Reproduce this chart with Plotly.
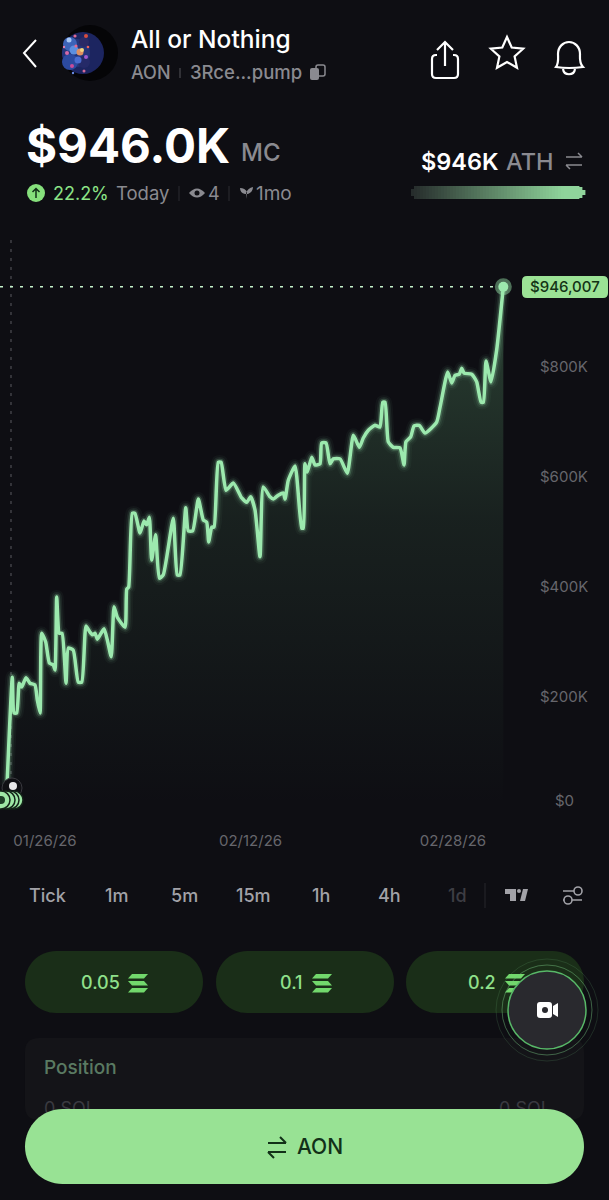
import re
import math
import pandas as pd
import plotly.graph_objects as go

W = 609
H = 1200
BG = "#0e0e13"
GREEN = "#9ce9ae"
GREY = "#8a8a90"

# days after 01/26/26
day_offset = [
    -3.14, -2.70, -2.56, -2.34, -2.13, -1.93, -1.57, -1.24, -0.83, -0.64, -0.41, -0.27,
    0.06, 0.36, 0.69, 0.83, 0.97, 1.18, 1.41, 1.74, 1.93, 2.34, 2.75, 3.04, 3.39, 3.72,
    3.94, 4.14, 4.33, 4.88, 5.15, 5.48, 5.71, 5.98, 6.62, 6.76, 6.92, 7.22, 7.44, 7.86,
    8.19, 8.41, 8.63, 8.82, 9.15, 9.45, 9.78, 10.61, 10.94, 11.16, 11.64, 11.85, 12.21,
    12.68, 13.09, 13.37, 13.54, 13.79, 13.98, 14.33, 14.56, 14.97, 15.57, 16.27, 16.68,
    17.01, 17.37, 17.78, 18.05, 18.61, 18.88, 19.29, 19.71, 19.85, 20.12, 20.68, 21.23,
    21.36, 21.50, 21.69, 22.06, 22.33, 22.74, 22.88, 23.24, 23.57, 23.84, 24.40, 25.00,
    25.50, 26.00, 26.32, 26.74, 27.29, 27.70, 27.93, 28.12, 28.39, 28.80, 29.36, 29.69,
    29.85, 30.24, 30.52, 30.95, 31.43, 32.39, 32.67, 33.30, 33.63, 33.91, 34.26, 34.46,
    34.65, 35.29, 35.70, 36.06, 36.25, 36.47, 36.88, 37.35, 37.90,
]
market_cap_k = [
    40, 236, 171, 171, 225, 218, 235, 225, 222, 195, 171, 316,
    300, 262, 258, 249, 382, 316, 316, 225, 289, 285, 227, 227, 329, 318,
    313, 316, 305, 324, 304, 273, 364, 345, 327, 396, 400, 534, 534, 498,
    520, 513, 527, 449, 495, 416, 422, 525, 422, 422, 544, 502, 502,
    560, 522, 518, 482, 509, 509, 627, 627, 576, 589, 562, 554,
    564, 540, 455, 582, 564, 560, 567, 571, 560, 594, 620, 507,
    507, 624, 609, 636, 622, 624, 662, 662, 624, 633, 633, 607,
    676, 654, 671, 685, 694, 691, 736, 736, 664, 654, 653, 622,
    664, 673, 693, 694, 680, 700, 727, 791, 771, 785, 787, 798,
    789, 787, 773, 736, 736, 811, 773, 831, 946.007,
]
y_ticks = [200, 400, 600, 800]
y_labels = ["$200K", "$400K", "$600K", "$800K"]
x_tick_days = [0, 17, 33.74]
x_labels = ["01/26/26", "02/12/26", "02/28/26"]
intervals = ["Tick", "1m", "5m", "15m", "1h", "4h", "1d"]
amounts = ["0.05", "0.1", "0.2"]

START = pd.Timestamp("2026-01-26")
dates = START + pd.to_timedelta(day_offset, unit="D")
tick_dates = START + pd.to_timedelta(x_tick_days, unit="D")
x_range = [START + pd.to_timedelta(-3.72, unit="D"), START + pd.to_timedelta(40.52, unit="D")]

fig = go.Figure()

# area under the line
fig.add_trace(go.Scatter(
    x=dates, y=market_cap_k, mode="lines", fill="tozeroy",
    line=dict(width=0, color="rgba(0,0,0,0)", shape="spline", smoothing=0.5),
    fillgradient=dict(type="vertical", colorscale=[
        [0, "rgba(130,220,150,0.0)"], [0.55, "rgba(130,220,150,0.09)"], [1, "rgba(130,220,150,0.25)"],
    ]),
    hoverinfo="skip",
))
# glow, then the line itself
for w, col in [(14, "rgba(156,233,174,0.04)"), (10, "rgba(156,233,174,0.08)"), (6.5, "rgba(156,233,174,0.2)"), (3.5, GREEN)]:
    fig.add_trace(go.Scatter(
        x=dates, y=market_cap_k, mode="lines",
        line=dict(width=w, color=col, shape="spline", smoothing=0.5),
        hoverinfo="skip",
    ))
fig.add_trace(go.Scatter(
    x=dates[-1:], y=market_cap_k[-1:], mode="markers",
    marker=dict(size=17, color="rgba(156,233,174,0.45)"), cliponaxis=False,
))
fig.add_trace(go.Scatter(
    x=dates[-1:], y=market_cap_k[-1:], mode="markers",
    marker=dict(size=10, color=GREEN), cliponaxis=False,
))

# partly hidden row behind the button, on a full-page overlay axis
fig.add_trace(go.Scatter(
    x=[70, 525], y=[1110, 1110], mode="text", text=["0 SOL", "0 SOL"],
    textfont=dict(family="Inter", size=18, color="#3a3a40"),
    xaxis="x2", yaxis="y2", cliponaxis=False,
))


def px(x):
    return x / W


def py(y):
    return 1 - y / H


def path(d):
    # pixel path -> paper path
    out = []
    for cmd, args in re.findall(r"([MLCQZ])([^MLCQZ]*)", d):
        nums = [float(n) for n in args.split()]
        pts = []
        for i in range(0, len(nums), 2):
            pts.append(f"{px(nums[i]):.5f},{py(nums[i + 1]):.5f}")
        out.append(cmd + " ".join(pts))
    return " ".join(out)


shapes = []


def add_path(d, stroke=None, fill=None, width=2, layer="above"):
    shapes.append(dict(
        type="path", xref="paper", yref="paper", path=path(d), layer=layer,
        line=dict(color=stroke or "rgba(0,0,0,0)", width=width if stroke else 0),
        fillcolor=fill or "rgba(0,0,0,0)",
    ))


def add_circle(cx, cy, r, fill=None, stroke=None, width=1):
    shapes.append(dict(
        type="circle", xref="paper", yref="paper", layer="above",
        x0=px(cx - r), x1=px(cx + r), y0=py(cy - r), y1=py(cy + r),
        fillcolor=fill or "rgba(0,0,0,0)",
        line=dict(color=stroke or "rgba(0,0,0,0)", width=width if stroke else 0),
    ))


def rounded(x0, y0, x1, y1, r):
    return (f"M{x0 + r} {y0} L{x1 - r} {y0} Q{x1} {y0} {x1} {y0 + r} L{x1} {y1 - r} Q{x1} {y1} {x1 - r} {y1} "
            f"L{x0 + r} {y1} Q{x0} {y1} {x0} {y1 - r} L{x0} {y0 + r} Q{x0} {y0} {x0 + r} {y0} Z")


def pill(x0, y0, x1, y1, fill):
    r = (y1 - y0) / 2
    k = r * 0.55
    my = (y0 + y1) / 2
    add_path(f"M{x0 + r} {y0} L{x1 - r} {y0} C{x1 - r + k} {y0} {x1} {my - k} {x1} {my} "
             f"C{x1} {my + k} {x1 - r + k} {y1} {x1 - r} {y1} L{x0 + r} {y1} "
             f"C{x0 + r - k} {y1} {x0} {my + k} {x0} {my} C{x0} {my - k} {x0 + r - k} {y0} {x0 + r} {y0} Z", fill=fill)


annotations = []


def txt(x, y, s, size, color="#ffffff", anchor="left", weight=400):
    if anchor == "left":
        x -= 2
    annotations.append(dict(
        x=px(x), y=py(y), xref="paper", yref="paper", text=s, showarrow=False,
        xanchor=anchor, yanchor="middle",
        font=dict(family="Inter", size=size, color=color, weight=weight),
    ))


# header
add_path("M36 40 L24 53 L36 67", stroke="#ffffff", width=2)
add_circle(90, 53, 28, fill="#050507")
add_circle(83, 53, 21, fill="#1c2560")
for x, y, r, c in [
    (76, 53, 14, "#24357a"), (70, 44, 7, "#3c63b8"), (70, 62, 8, "#2c4aa0"), (84, 62, 6, "#252a68"),
    (84, 42, 5, "#2a2a66"), (74, 50, 4.5, "#5c8fe0"), (78, 60, 3.5, "#4a6cd0"), (69, 40, 2.5, "#a8c8f5"),
    (80, 52, 3.5, "#e09060"), (82, 50, 2, "#f3d67e"), (76, 46, 1.6, "#e8688f"), (86, 36, 2, "#d84e3e"),
    (67, 53, 2, "#d46aa8"), (72, 66, 2, "#c84c9a"), (86, 57, 2, "#a05ad0"), (75, 36, 1.6, "#e06a90"),
    (84, 71, 1.5, "#d46a9a"), (73, 73, 1.2, "#6688e0"), (64, 47, 1.2, "#e080b0"), (88, 47, 1.3, "#e8605a"),
]:
    add_circle(x, y, r, fill=c)
txt(131, 39, "All or Nothing", 24.5, weight=500)
txt(131, 72, "AON", 18, GREY, weight=500)
add_path("M180 68 L180 78", stroke="#55555b", width=1)
txt(190, 72, "3Rce...pump", 18.5, GREY, weight=500)
add_path(rounded(310, 68, 319, 80, 2), fill=GREY)
add_path(rounded(316, 65, 325, 76, 2), stroke=GREY, width=1.5)

# share, star, bell
add_path("M437 55 L436 55 Q432 55 432 59 L432 74 Q432 78 436 78 L454 78 Q458 78 458 74 L458 59 Q458 55 454 55 L453 55",
         stroke="#ffffff", width=2.2)
add_path("M445 66 L445 43 M437 50 L445 42 L453 50", stroke="#ffffff", width=2.2)
star = []
for i in range(10):
    r = 17 if i % 2 == 0 else 8
    a = -math.pi / 2 + i * math.pi / 5
    star.append(f"{507 + r * math.cos(a):.1f} {54 + r * math.sin(a):.1f}")
add_path("M" + " L".join(star) + " Z", stroke="#ffffff", width=2.2)
add_path("M556 67 C559 63 558 57 558 54 C558 47 563 42 569 42 C575 42 580 47 580 54 C580 57 579 63 583 67 Q569 69 556 67 Z",
         stroke="#ffffff", width=2.2)
add_path("M563 69 C564 76 574 76 575 69", stroke="#ffffff", width=2.2)

# market cap
txt(26, 145, "$946.0K", 47.5, weight=700)
txt(241, 153, "MC", 24, GREY, weight=500)
add_circle(36, 193, 9, fill="#86e07c")
add_path("M36 198 L36 189 M32.5 192 L36 188.5 L39.5 192", stroke="#123018", width=1.5)
txt(53, 193, "22.2%", 18, "#8ce387")
txt(116, 193, "Today", 18.5, GREY)
add_path("M179 186 L179 201", stroke="#2c2c32", width=1)
add_path("M189 193 Q197 184 205 193 Q197 202 189 193 Z", fill=GREY)
add_circle(197, 193, 2.5, fill=BG)
txt(208, 193, "4", 18, GREY)
add_path("M229 186 L229 201", stroke="#2c2c32", width=1)
add_path("M246 199 L246 193 Q248 188 253 187 Q253 192 248 194 L245 194 Q240 193 240 188 Q245 188 247 192 Z", fill=GREY)
txt(256, 193, "1mo", 19, GREY)

# ATH block
txt(421, 161, "$946K", 23.5, weight=600)
txt(506, 161, "ATH", 23.5, GREY, weight=500)
add_path("M566 157 L582 157 M578 153 L582 157 M582 165 L566 165 M570 169 L566 165", stroke=GREY, width=1.5)
BAR_L, BAR_R, BAR_T, BAR_B = 411, 584, 186, 199
for x in range(BAR_L, BAR_R, 3):
    t = (x - BAR_L) / (BAR_R - BAR_L)
    k = min(1.0, t * 1.15)
    col = f"rgb({int(38 + (143 - 38) * k)},{int(44 + (212 - 44) * k)},{int(44 + (155 - 44) * k)})"
    edge = min(x - BAR_L, BAR_R - x - 3)
    inset = max(0, 3 - edge)
    shapes.append(dict(type="rect", xref="paper", yref="paper", layer="above",
                       x0=px(x), x1=px(x + 3.4), y0=py(BAR_T + inset), y1=py(BAR_B - inset),
                       fillcolor=col, line=dict(width=0)))

# chart overlays
shapes.append(dict(type="line", xref="x", yref="y", x0=START + pd.to_timedelta(-2.81, unit="D"),
                   x1=START + pd.to_timedelta(-2.81, unit="D"), y0=60, y1=1031, layer="below",
                   line=dict(color="#4e4e54", width=1.2, dash="3px 6px")))
shapes.append(dict(type="line", xref="x", yref="y", x0=x_range[0], x1=dates[-1], y0=market_cap_k[-1], y1=market_cap_k[-1],
                   layer="below", line=dict(color="#c5f2cc", width=1.5, dash="3px 7px")))
add_path(rounded(522, 276, 608, 298, 5), fill="#9be295")
txt(565, 287, "$946,007", 15, "#133316", anchor="center", weight=500)
txt(564, 800, "$0", 15, "#66666c", anchor="center")

# coins at the first trade
add_circle(12, 788, 10, fill="#101014", stroke="#3a3a40", width=1)
add_circle(13, 786, 4, fill="#e8e8ea")
for cx in [14, 10, 6, 1]:
    add_circle(cx, 800, 9, fill="#9ee8a6", stroke="#15251a", width=1.5)
add_circle(1, 800, 4, fill="#1e4028")

# interval row
for label, x in zip(intervals, [47, 116, 184, 253, 321, 389, 457]):
    txt(x, 895, label, 18, "#3d3d43" if label == "1d" else "#a2a2a8", anchor="center", weight=500)
add_path("M485 883 L485 908", stroke="#26262c", width=1)
add_path("M505 889 L516 889 L516 901 L510 901 L510 894 L505 894 Z", fill="#a2a2a8")
add_path("M520 901 L523 889 L528 889 L525 901 Z", fill="#a2a2a8")
add_circle(519, 891, 2, fill="#a2a2a8")
add_path("M563 891 L574 891 M563 900 L582 900", stroke="#a2a2a8", width=1.6)
add_circle(578, 891, 4, stroke="#a2a2a8", width=1.6)
add_circle(568, 900, 4, fill=BG, stroke="#a2a2a8", width=1.6)

# amount buttons
BTN_FILL = "#1a2e18"
for label, (x0, x1), tx, ix in zip(amounts, [(25, 203), (216, 394), (406, 584)], [100, 291, 482], [138, 322, 515]):
    pill(x0, 951, x1, 1013, BTN_FILL)
    txt(tx, 982, label, 18, "#8fe08a", anchor="center", weight=500)
    for dy, flip in [(-8, 1), (-1, -1), (6, 1)]:
        add_path(f"M{ix - 8 + 2 * flip} {982 + dy} L{ix + 8 + 2 * flip} {982 + dy} L{ix + 8 - 2 * flip} {982 + dy + 4.5} "
                 f"L{ix - 8 - 2 * flip} {982 + dy + 4.5} Z", fill="#72d86c")

# position panel sits under the overlay text
add_path(rounded(25, 1038, 584, 1120, 14), fill="#141418", layer="below")
txt(44, 1067, "Position", 19, "#5a7a62", weight=500)

# floating video button
add_circle(547, 1010, 51, stroke="rgba(120,200,130,0.16)", width=1)
add_circle(547, 1010, 45, stroke="rgba(120,200,130,0.45)", width=1)
add_circle(547, 1010, 39, fill="#29292e", stroke="#58b868", width=1.5)
add_path(rounded(537, 1002, 552, 1018, 3), fill="#ffffff")
add_path("M553 1006 L558 1003 L558 1017 L553 1014 Z", fill="#ffffff")
add_circle(545, 1010, 3, fill="#29292e")

# trade button
pill(25, 1109, 584, 1184, "#98e294")
add_path("M268 1143 L286 1143 M280 1137 L286 1143 M286 1152 L268 1152 M274 1158 L268 1152", stroke="#123018", width=2)
txt(297, 1146, "AON", 21, "#123018", weight=500)

fig.update_layout(
    width=W, height=H, autosize=False, showlegend=False,
    margin=dict(l=0, r=0, t=0, b=0),
    paper_bgcolor=BG, plot_bgcolor="rgba(0,0,0,0)",
    font=dict(family="Inter"),
    hovermode=False,
    shapes=shapes,
    annotations=annotations,
    xaxis=dict(
        domain=[0, 535 / W], range=list(x_range), type="date", anchor="y",
        tickvals=list(tick_dates), ticktext=x_labels, tickangle=0,
        ticks="outside", ticklen=20, tickcolor=BG, showgrid=False, zeroline=False, showline=False,
        tickfont=dict(family="Inter", size=15, color="#66666c"),
    ),
    yaxis=dict(
        domain=[1 - 807 / H, 1 - 240 / H], range=[0, 1031], side="right", anchor="x",
        tickvals=y_ticks, ticktext=y_labels,
        ticks="outside", ticklen=1, tickcolor=BG, showgrid=False, zeroline=False, showline=False,
        tickfont=dict(family="Inter", size=15, color="#66666c"),
    ),
    xaxis2=dict(domain=[0, 1], range=[0, W], visible=False, anchor="y2"),
    yaxis2=dict(domain=[0, 1], range=[H, 0], visible=False, anchor="x2"),
)

fig.write_html("out.html", config={"displayModeBar": False},
               post_script="document.body.style.margin='0';document.body.style.background='%s';" % BG)
